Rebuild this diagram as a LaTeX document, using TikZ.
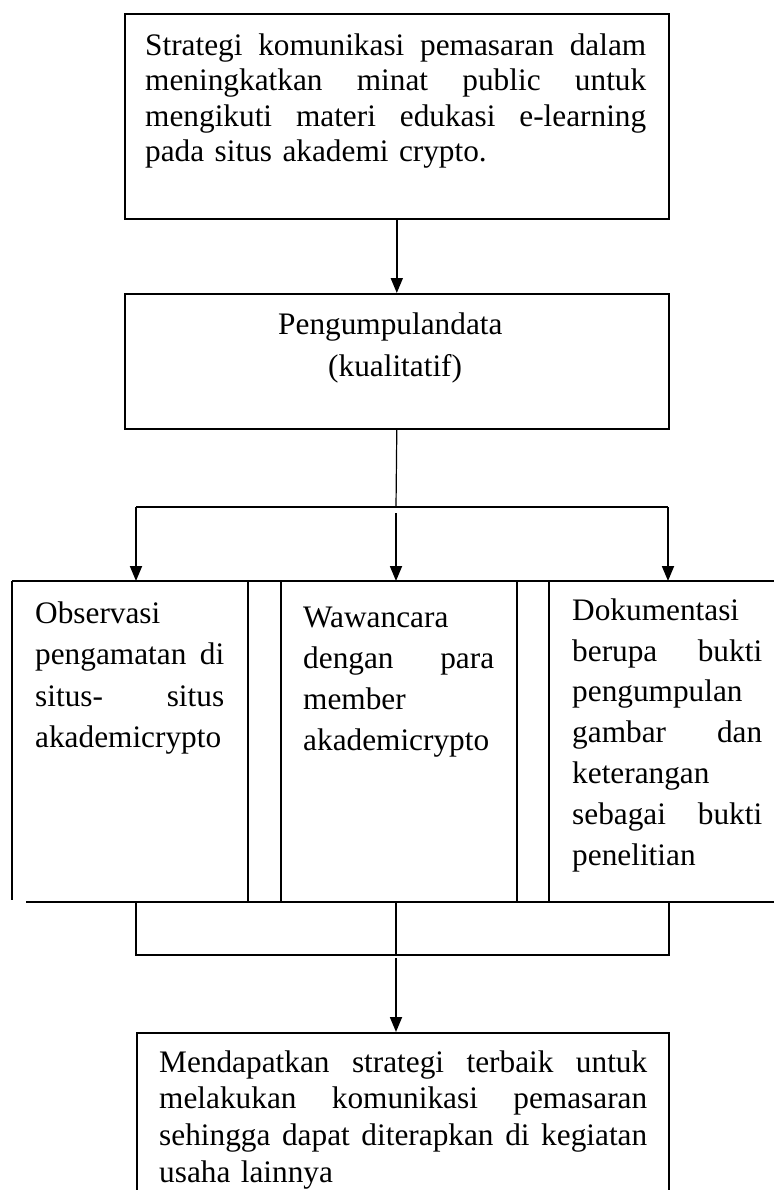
\documentclass[tikz,border=0pt]{standalone}
\usepackage{fontspec}
\setmainfont{Liberation Serif}
\usetikzlibrary{arrows.meta}
\newcommand\jl[1]{\makebox[\hsize][s]{\spaceskip=0pt\xspaceskip=0pt\relax #1}\\}
\begin{document}
\begin{tikzpicture}[x=1pt,y=-1pt,
  box/.style={draw, line width=1.6pt, inner sep=0pt, anchor=north west},
  txt/.style={inner sep=0pt, anchor=north west, align=left},
  conn/.style={line width=1.8pt},
  thinconn/.style={line width=1.2pt},
  arr/.style={conn, -{Triangle[width=12pt,length=15pt]}},
  rule/.style={line width=1.8pt}]
\useasboundingbox (0,0) rectangle (773,1190);

% top box
\node[box, minimum width=544pt, minimum height=205pt] (top) at (124,13) {};
\node[txt, text width=501pt, font=\fontsize{31.3}{35.5}\selectfont] (toptxt) at (145,31)
  {\rule{0pt}{24pt}\jl{Strategi komunikasi pemasaran dalam}\jl{meningkatkan minat public untuk}\jl{mengikuti materi edukasi e-learning}pada situs akademi crypto.};

% second box
\node[box, minimum width=544pt, minimum height=135pt] (mid) at (124,293) {};
\node[inner sep=0pt, anchor=north west, align=left, font=\fontsize{31.3}{42}\selectfont] (midtxt) at (278,310)
  {\rule{0pt}{24pt}Pengumpulandata\\\hspace*{50pt}(kualitatif)};

\draw[arr] (top.south) -- (top.south |- mid.north);

% branch
\coordinate (brC) at (396,507);
\coordinate (brC2) at (396,513);
\coordinate (brL) at (136,507);
\coordinate (brR) at (668,507);
\coordinate (inL) at (136,581);
\coordinate (inC) at (396,581);
\coordinate (inR) at (668,581);
\draw[thinconn] (mid.south) -- (brC);
\draw[conn] (brL) -- (brR);
\draw[arr] (brL) -- (inL);
\draw[arr] (brC2) -- (inC);
\draw[arr] (brR) -- (inR);

% row of three columns
\coordinate (rowTL) at (12,581);
\coordinate (rowTR) at (775,581);
\coordinate (rowBL) at (26,902);
\coordinate (rowBR) at (775,902);
\draw[rule] (rowTL) -- (rowTR);
\draw[rule] (rowBL) -- (rowBR);
\draw[rule] (rowTL) -- (12,900);
\foreach \x in {248,281,517,549} \draw[rule] (\x,581) -- (\x,902);

\node[txt, text width=189pt, font=\fontsize{31.3}{41.5}\selectfont] (obs) at (35,599)
  {\rule{0pt}{24pt}Observasi\\\jl{pengamatan di}\jl{situs- situs}akademicrypto};
\node[txt, text width=191pt, font=\fontsize{31.3}{41}\selectfont] (waw) at (303,603)
  {\rule{0pt}{24pt}Wawancara\\\jl{dengan para}member\\akademicrypto};
\node[txt, text width=190pt, font=\fontsize{31.3}{40.8}\selectfont] (dok) at (572,596)
  {\rule{0pt}{24pt}Dokumentasi\\\jl{berupa bukti}pengumpulan\\\jl{gambar dan}keterangan\\\jl{sebagai bukti}penelitian};

% lower bracket
\coordinate (jL) at (136,902);
\coordinate (jC) at (396,902);
\coordinate (jR) at (669,902);
\coordinate (kL) at (136,955);
\coordinate (kC) at (396,955);
\coordinate (kR) at (669,955);
\coordinate (aS) at (396,958);
\draw[rule] (jL) -- (kL) -- (kR) -- (jR);
\draw[thinconn] (jC) -- (kC);

% bottom box
\node[box, minimum width=532pt, minimum height=180pt] (bot) at (136,1032) {};
\draw[arr] (aS) -- (aS |- bot.north);
\node[txt, text width=488pt, font=\fontsize{31.3}{36.7}\selectfont] (bottxt) at (159,1048)
  {\rule{0pt}{24pt}\jl{Mendapatkan strategi terbaik untuk}\jl{melakukan komunikasi pemasaran}\jl{sehingga dapat diterapkan di kegiatan}usaha lainnya};
\end{tikzpicture}
\end{document}
